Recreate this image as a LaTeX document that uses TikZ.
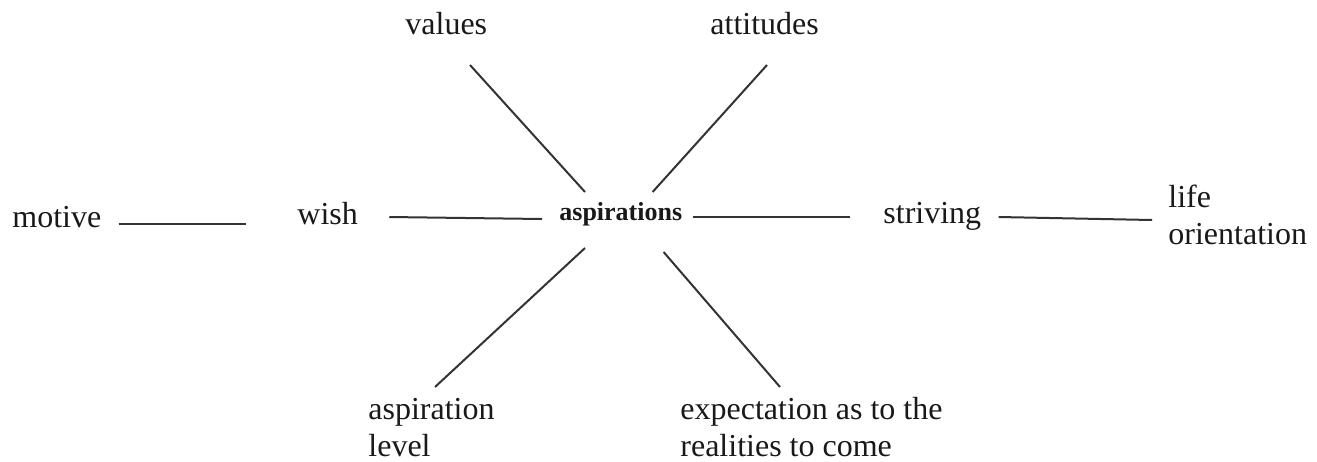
\documentclass[tikz,border=0pt]{standalone}
\usepackage{fontspec}
\setmainfont{Liberation Serif}
\usetikzlibrary{positioning}

\begin{document}
\begin{tikzpicture}[x=0.5pt,y=-0.5pt]
  \tikzstyle{concept}=[inner sep=0pt, anchor=base west, align=left,
    text=black!90, font=\fontsize{16}{18.5}\selectfont]
  \tikzstyle{link}=[draw=black!80, line width=1pt]

  \useasboundingbox (0,0) rectangle (1317,461);

  % two-line labels sit on their last baseline
  \node[concept, font=\fontsize{13}{15}\selectfont\bfseries] (asp) at (559,220) {aspirations};
  \node[concept] (motive) at (12,227)   {motive};
  \node[concept] (wish)   at (297,224)  {wish};
  \node[concept] (striv)  at (883,223)  {striving};
  \node[concept] (life)   at (1168,244) {life\\orientation};
  \node[concept] (values) at (405,34)   {values};
  \node[concept] (attit)  at (710,34)   {attitudes};
  \node[concept] (level)  at (368,456)  {aspiration\\level};
  \node[concept] (expect) at (680,456)  {expectation as to the\\realities to come};

  % horizontal chain
  \path[link]
  ([shift={(17,-3)}]motive.base east) edge ([shift={(-51,0)}]wish.base west)
  ([shift={(31,-7)}]wish.base east)   edge ([shift={(-17,-1)}]asp.base west)
  ([shift={(10,-3)}]asp.base east)    edge ([shift={(-33,-6)}]striv.base west)
  ([shift={(17,-6)}]striv.base east)  edge ([shift={(-16,-24)}]life.base west);

  % spokes
  \path[link]
  ([shift={(65,31)}]values.base west) edge ([shift={(26,-28)}]asp.base west)
  ([shift={(57,31)}]attit.base west)  edge ([shift={(-30,-28)}]asp.base east)
  ([shift={(26,28)}]asp.base west)    edge ([shift={(67,-69)}]level.base west)
  ([shift={(-19,32)}]asp.base east)   edge ([shift={(100,-69)}]expect.base west);
\end{tikzpicture}
\end{document}
